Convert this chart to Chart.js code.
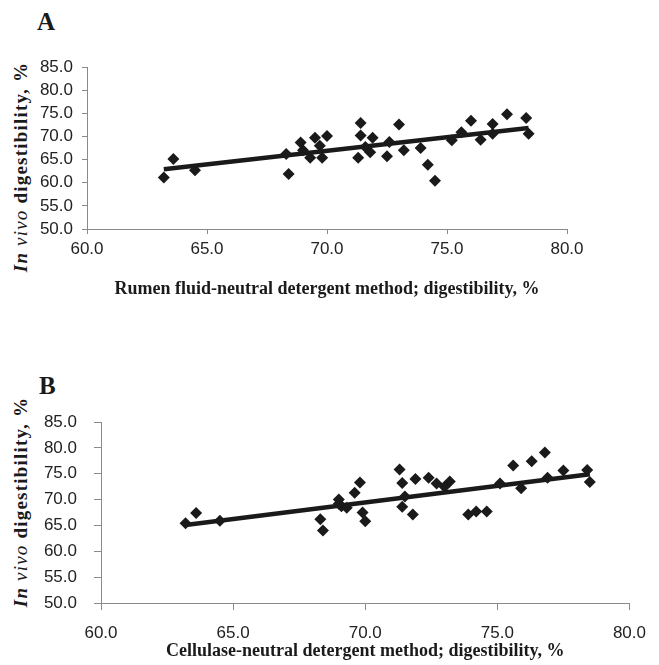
<!DOCTYPE html>
<html>
<head>
<meta charset="utf-8">
<script src="https://cdn.jsdelivr.net/npm/chart.js@4.4.1/dist/chart.umd.min.js"></script>
<style>
    body { margin: 0; background: #fff; width: 659px; height: 665px; position: relative; overflow: hidden; }
    canvas { position: absolute; left: 0; }
    #chartA { top: 0; }
    #chartB { top: 360px; }
    .letter { position: absolute; font: bold 25px "Liberation Serif", serif; color: #1a1a1a; }
    .ytitle {
        position: absolute; font: bold 19px "Liberation Serif", serif; color: #1a1a1a;
        letter-spacing: 1.2px;
        white-space: nowrap; transform: translate(-50%, -50%) rotate(-90deg);
    }
    .ytitle .v { font-weight: normal; font-style: italic; }
</style>
</head>
<body>
<div class="letter" style="left:37px; top:8px;">A</div>
<div class="letter" style="left:39px; top:372px;">B</div>
<div class="ytitle" style="left:21px; top:167px;"><i>In</i> <span class="v">vivo</span> digestibility, %</div>
<div class="ytitle" style="left:21px; top:502px;"><i>In</i> <span class="v">vivo</span> digestibility, %</div>

<canvas id="chartA" width="659" height="300"></canvas>
<canvas id="chartB" width="659" height="305"></canvas>

<script>
// Panel A: rumen fluid-neutral detergent method vs in vivo
const rumenX = [63.2, 63.6, 64.5, 68.3, 68.4, 68.9, 69.0, 69.3, 69.5, 69.7, 69.8, 70.0,
    71.3, 71.4, 71.4, 71.6, 71.8, 71.9, 72.5, 72.6, 73.0, 73.2, 73.9, 74.2, 74.5,
    75.2, 75.6, 76.0, 76.4, 76.9, 76.9, 77.5, 78.3, 78.4];
const invivoA = [61.1, 65.1, 62.7, 66.2, 61.9, 68.7, 67.0, 65.4, 69.7, 68.0, 65.4, 70.1,
    65.4, 72.9, 70.2, 67.7, 66.6, 69.7, 65.7, 68.8, 72.6, 67.0, 67.5, 63.9, 60.4,
    69.2, 70.9, 73.4, 69.3, 72.7, 70.6, 74.8, 74.0, 70.6];
const trendAX = [63.2, 78.4];
const trendAY = [62.9, 71.8];

// Panel B: cellulase-neutral detergent method vs in vivo
const celluX = [63.2, 63.6, 64.5, 68.3, 68.4, 69.0, 69.0, 69.1, 69.3, 69.6, 69.8, 69.9, 70.0,
    71.3, 71.4, 71.4, 71.5, 71.8, 71.9, 72.4, 72.7, 73.0, 73.2, 73.9, 74.2, 74.6,
    75.1, 75.6, 75.9, 76.3, 76.8, 76.9, 77.5, 78.4, 78.5];
const invivoB = [65.4, 67.4, 65.9, 66.2, 64.0, 70.0, 69.2, 68.7, 68.4, 71.3, 73.3, 67.5, 65.8,
    75.8, 73.2, 68.6, 70.6, 67.1, 74.0, 74.2, 73.1, 72.5, 73.5, 67.1, 67.7, 67.7,
    73.1, 76.6, 72.2, 77.4, 79.1, 74.2, 75.6, 75.7, 73.4];
const trendBX = [63.2, 78.5];
const trendBY = [65.1, 74.9];

const xTicks = [60, 65, 70, 75, 80];
const yTicks = [50, 55, 60, 65, 70, 75, 80, 85];

const ink = "#1a1a1a";

function pts(xs, ys) {
    return xs.map((x, i) => ({ x: x, y: ys[i] }));
}

function makeChart(id, cfg) {
    const ctx = document.getElementById(id).getContext("2d");
    return new Chart(ctx, {
        type: "scatter",
        data: {
            datasets: [{
                data: pts(cfg.xs, cfg.ys),
                pointStyle: "rectRot",
                pointRadius: 6,
                backgroundColor: ink,
                borderColor: ink,
                borderWidth: 0
            }, {
                type: "line",
                data: pts(cfg.tx, cfg.ty),
                borderColor: ink,
                borderWidth: 4.5,
                pointRadius: 0,
                fill: false
            }]
        },
        options: {
            responsive: false,
            animation: false,
            events: [],
            layout: { padding: cfg.pad },
            plugins: { legend: { display: false }, tooltip: { enabled: false } },
            scales: {
                x: {
                    type: "linear", min: 60, max: 80,
                    afterBuildTicks: s => { s.ticks = xTicks.map(v => ({ value: v })); },
                    afterFit: s => { s.height = cfg.xh; },
                    border: { color: "#8a8a8a", width: 1 },
                    grid: { drawOnChartArea: false, tickLength: cfg.tick, color: "#8a8a8a" },
                    ticks: {
                        autoSkip: false, maxRotation: 0,
                        padding: cfg.xpad, color: "#222",
                        font: { family: "'Liberation Sans', Arial", size: 17 },
                        callback: v => v.toFixed(1)
                    },
                    title: {
                        display: true, text: cfg.xtitle, color: ink,
                        padding: 0,
                        font: { family: "'Liberation Serif', serif", size: 18, weight: "bold" }
                    }
                },
                y: {
                    type: "linear", min: 50, max: 85,
                    afterBuildTicks: s => { s.ticks = yTicks.map(v => ({ value: v })); },
                    afterFit: s => { s.width = cfg.yw; },
                    border: { color: "#8a8a8a", width: 1 },
                    grid: { drawOnChartArea: false, tickLength: cfg.tick, color: "#8a8a8a" },
                    ticks: {
                        autoSkip: false,
                        padding: cfg.ypad, color: "#222",
                        font: { family: "'Liberation Sans', Arial", size: 17 },
                        callback: v => v.toFixed(1)
                    }
                }
            }
        }
    });
}

makeChart("chartA", {
    xs: rumenX, ys: invivoA, tx: trendAX, ty: trendAY,
    pad: { left: 0, right: 92, top: 67, bottom: 0 },
    xh: 71, yw: 87, tick: 5, xpad: 5, ypad: 9,
    xtitle: "Rumen fluid-neutral detergent method; digestibility, %"
});

makeChart("chartB", {
    xs: celluX, ys: invivoB, tx: trendBX, ty: trendBY,
    pad: { left: 0, right: 20, top: 62, bottom: 3 },
    xh: 59, yw: 101, tick: 7, xpad: 13, ypad: 17,
    xtitle: "Cellulase-neutral detergent method; digestibility, %"
});
</script>
</body>
</html>
